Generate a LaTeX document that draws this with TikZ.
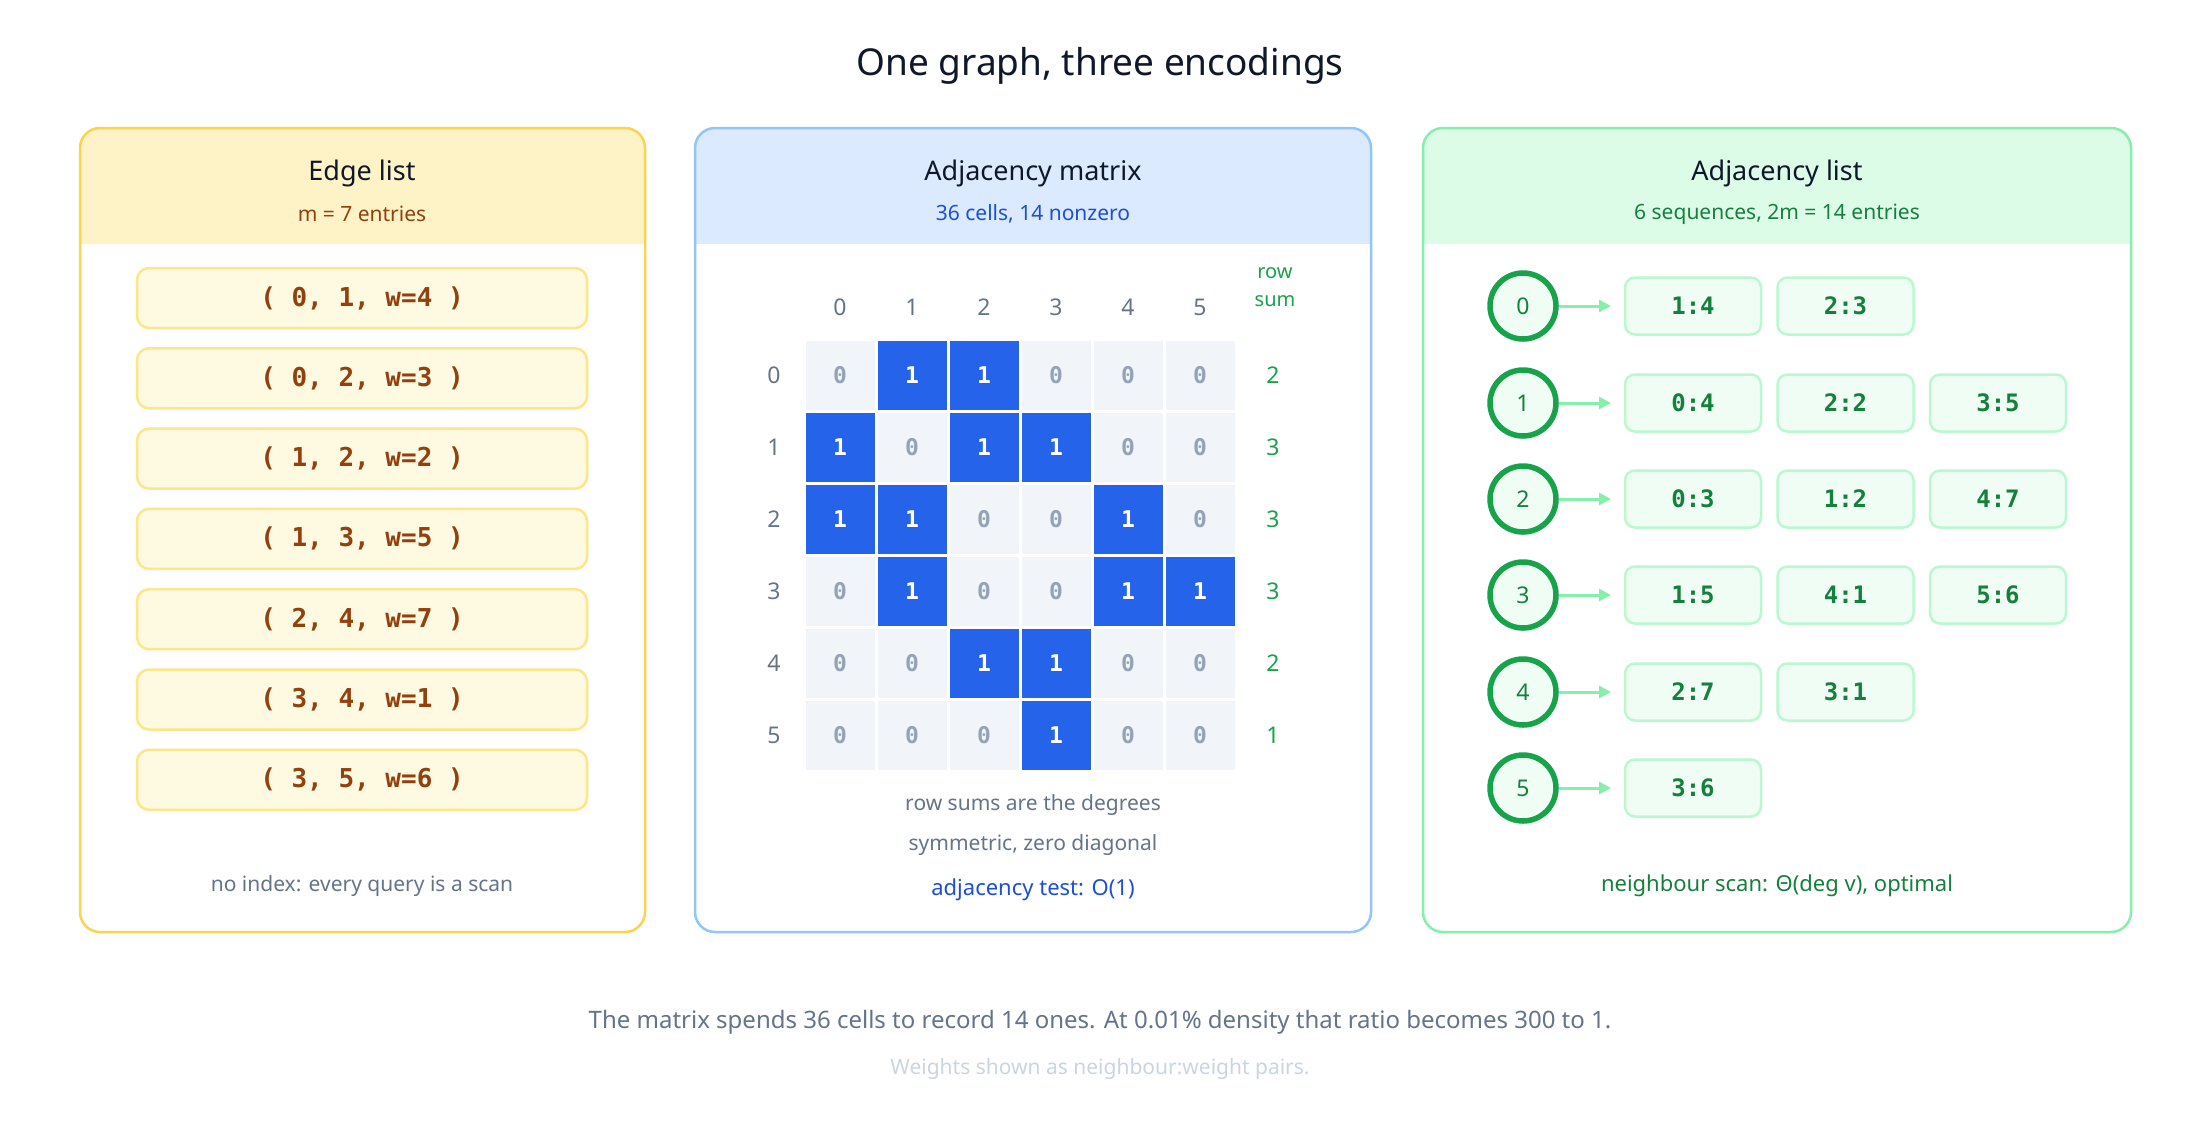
\documentclass[tikz,border=0pt]{standalone}
\usepackage{fontspec}
\setmainfont{Noto Sans}
\setmonofont{DejaVu Sans Mono}
\usetikzlibrary{arrows.meta}
\definecolor{ink}{HTML}{0F172A}
\definecolor{slate}{HTML}{64748B}
\definecolor{pale}{HTML}{CBD5E1}
\definecolor{zero}{HTML}{94A3B8}
\definecolor{cellbg}{HTML}{F1F5F9}
\definecolor{blueA}{HTML}{2563EB}
\definecolor{blueT}{HTML}{1D4ED8}
\definecolor{blueH}{HTML}{DBEAFE}
\definecolor{blueB}{HTML}{93C5FD}
\definecolor{yelH}{HTML}{FEF3C7}
\definecolor{yelB}{HTML}{FCD34D}
\definecolor{yelBox}{HTML}{FEF9E1}
\definecolor{yelBoxB}{HTML}{FDE68A}
\definecolor{brown}{HTML}{92400E}
\definecolor{grnH}{HTML}{DCFCE7}
\definecolor{grnB}{HTML}{86EFAC}
\definecolor{grnT}{HTML}{15803D}
\definecolor{grnC}{HTML}{16A34A}
\definecolor{grnBox}{HTML}{F0FDF4}
\definecolor{grnBoxB}{HTML}{BBF7D0}
\newcommand{\fs}[1]{\fontsize{#1}{#1}\selectfont}
\tikzset{
 x=1pt,y=-1pt,
 ptitle/.style={font=\fs{27}\bfseries,text=ink},
 psub/.style={font=\fs{21}},
 note/.style={font=\fs{21},text=slate},
 ebox/.style={draw=yelBoxB,fill=yelBox,line width=2.5pt,rounded corners=12pt,minimum width=450pt,minimum height=60pt,font=\fs{26}\ttfamily\bfseries,text=brown},
 one/.style={fill=blueA,minimum size=69pt,inner sep=0pt,font=\fs{23}\ttfamily\bfseries,text=white},
 zer/.style={fill=cellbg,minimum size=69pt,inner sep=0pt,font=\fs{23}\ttfamily\bfseries,text=zero},
 hdr/.style={font=\fs{23}\bfseries,text=slate},
 rsum/.style={font=\fs{23}\bfseries,text=grnC},
 vert/.style={circle,draw=grnC,line width=5.5pt,minimum size=66pt,inner sep=0pt,fill=grnBox,font=\fs{23}\bfseries,text=grnT},
 lbox/.style={draw=grnBoxB,fill=grnBox,line width=2.5pt,rounded corners=10pt,minimum width=136pt,minimum height=57pt,font=\fs{24}\ttfamily\bfseries,text=grnT},
 larr/.style={draw=grnB,line width=3pt,-{Triangle[length=12pt,width=12pt]}},
}
\begin{document}
\begin{tikzpicture}
\useasboundingbox[fill=white] (0,0) rectangle (2200,1120);
\node[font=\fs{37}\bfseries,text=ink] (title) at (1100,66) {One graph, three encodings};
% panels
\foreach \xa/\xb/\hf/\bd in {80/645/yelH/yelB,695/1371/blueH/blueB,1423/2131/grnH/grnB}{
  \begin{scope}
  \clip[rounded corners=20pt] (\xa,128) rectangle (\xb,932);
  \fill[\hf] (\xa,128) rectangle (\xb,244);
  \end{scope}
  \draw[\bd,line width=2.5pt,rounded corners=20pt] (\xa,128) rectangle (\xb,932);
}
% panel 1
\node[ptitle] (t1) at (362,173) {Edge list};
\node[psub,text=brown] (s1) at (362,214) {m = 7 entries};
\foreach \i/\t in {0/{( 0, 1, w=4 )},1/{( 0, 2, w=3 )},2/{( 1, 2, w=2 )},3/{( 1, 3, w=5 )},4/{( 2, 4, w=7 )},5/{( 3, 4, w=1 )},6/{( 3, 5, w=6 )}}{
  \node[ebox] (e\i) at (362,298+80.3*\i) {\t};
}
\node[note] (n1) at (362,886) {no index: every query is a scan};
% panel 2
\node[ptitle] (t2) at (1033,173) {Adjacency matrix};
\node[psub,text=blueT] (s2) at (1033,214) {36 cells, 14 nonzero};
\foreach \c in {0,...,5}{
  \node[hdr] (ch\c) at (840+72*\c,307) {\c};
  \node[hdr] (rh\c) at (774,375+72*\c) {\c};
}
\node[font=\fs{20},text=grnC,align=center] (rs) at (1275,287) {row\\[8pt]sum};
\foreach \r/\row/\s in {0/{0,1,1,0,0,0}/2,1/{1,0,1,1,0,0}/3,2/{1,1,0,0,1,0}/3,3/{0,1,0,0,1,1}/3,4/{0,0,1,1,0,0}/2,5/{0,0,0,1,0,0}/1}{
  \foreach \v [count=\c from 0] in \row{
    \ifnum\v=1 \node[one] (m\r\c) at (840+72*\c,375+72*\r) {1};
    \else \node[zer] (m\r\c) at (840+72*\c,375+72*\r) {0};\fi
  }
  \node[rsum] (sum\r) at (1273,375+72*\r) {\s};
}
\node[note] (n2a) at (1033,805) {row sums are the degrees};
\node[note] (n2b) at (1033,845) {symmetric, zero diagonal};
\node[font=\fs{22}\bfseries,text=blueT] (n2c) at (1033,890) {adjacency test: O(1)};
% panel 3
\node[ptitle] (t3) at (1777,173) {Adjacency list};
\node[psub,text=grnT] (s3) at (1777,214) {6 sequences, 2m = 14 entries};
\foreach \v/\y/\lst in {0/306/{1:4,2:3},1/403/{0:4,2:2,3:5},2/499/{0:3,1:2,4:7},3/595/{1:5,4:1,5:6},4/692/{2:7,3:1},5/788/{3:6}}{
  \node[vert] (v\v) at (1523,\y) {\v};
  \foreach \e [count=\k from 0] in \lst{
    \node[lbox] (b\v\k) at (1693+152.5*\k,\y) {\e};
  }
  \coordinate (a\v) at (1611,\y);
  \draw[larr] (v\v.east) -- (a\v);
}
\node[font=\fs{22}\bfseries,text=grnT] (n3) at (1777,886) {neighbour scan: Θ(deg v), optimal};
% footer
\node[font=\fs{24},text=slate] (f1) at (1100,1022) {The matrix spends 36 cells to record 14 ones. At 0.01\% density that ratio becomes 300 to 1.};
\node[font=\fs{21},text=pale] (f2) at (1100,1069) {Weights shown as neighbour:weight pairs.};
\end{tikzpicture}
\end{document}
